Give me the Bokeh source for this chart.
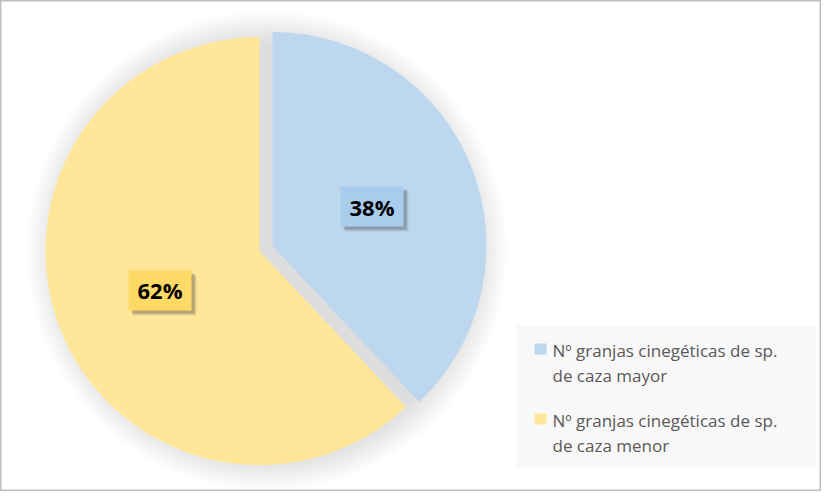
import math
import textwrap
from bokeh.plotting import figure
from bokeh.models import Range1d
from bokeh.core.properties import value
from bokeh.embed import file_html
from bokeh.resources import INLINE

# ---- data ----
categories = ["Nº granjas cinegéticas de sp. de caza mayor",
              "Nº granjas cinegéticas de sp. de caza menor"]
shares = [38, 62]
labels = ["38%", "62%"]
slice_colors = ["#BDD7EE", "#FFE699"]
label_box_colors = ["#A9CBEC", "#FFD966"]

W, H = 821, 491
p = figure(width=W, height=H, output_backend="svg", toolbar_location=None,
           x_range=Range1d(0, W), y_range=Range1d(0, H), min_border=0)
p.axis.visible = False
p.grid.visible = False
p.outline_line_color = "#BFBFBF"
p.outline_line_width = 2
p.background_fill_color = "white"
p.border_fill_color = "white"

cx, cy, r, explode = 265.5, 243.0, 214.0, 7.0

# soft shadow around the pie
for k in range(26, -8, -2):
    p.circle(x=[cx + 1], y=[cy - 2], radius=r + k, fill_color="#808080",
             fill_alpha=0.018, line_color=None)

total = sum(shares)
start = math.pi / 2
for i, s in enumerate(shares):
    sweep = s / total * 2 * math.pi
    end = start - sweep
    mid = start - sweep / 2
    ox, oy = cx + explode * math.cos(mid), cy + explode * math.sin(mid)
    p.wedge(x=[ox], y=[oy], radius=r, start_angle=start, end_angle=end,
            direction="clock", fill_color=slice_colors[i], line_color=None)
    lx, ly = ox + 0.5 * r * math.cos(mid), oy + 0.5 * r * math.sin(mid)
    # label shadow
    for d, a in [(5, 0.10), (4, 0.15), (3, 0.2)]:
        p.rect(x=[lx + d], y=[ly - d], width=63, height=40,
               fill_color="#404040", fill_alpha=a, line_color=None)
    p.rect(x=[lx], y=[ly], width=63, height=40,
           fill_color=label_box_colors[i], line_color=None)
    p.text(x=[lx], y=[ly], text=[labels[i]], text_align="center",
           text_baseline="middle", text_font=value("Open Sans"),
           text_font_style="bold", text_font_size="22px", text_color="black")
    start = end

# legend
p.quad(left=[516], right=[816], bottom=[24], top=[166],
       fill_color="#F8F8F8", line_color=None)
for i, cat in enumerate(categories):
    y0 = 141 - i * 70
    p.rect(x=[540], y=[y0 + 1.5], width=12, height=11,
           fill_color=slice_colors[i], line_color=None)
    for j, line in enumerate(textwrap.wrap(cat, 30)):
        p.text(x=[552], y=[y0 - j * 25], text=[line], text_align="left",
               text_baseline="middle", text_font=value("Open Sans"),
               text_font_size="17px", text_color="#595959")

open("out.html", "w").write(file_html(p, INLINE))
